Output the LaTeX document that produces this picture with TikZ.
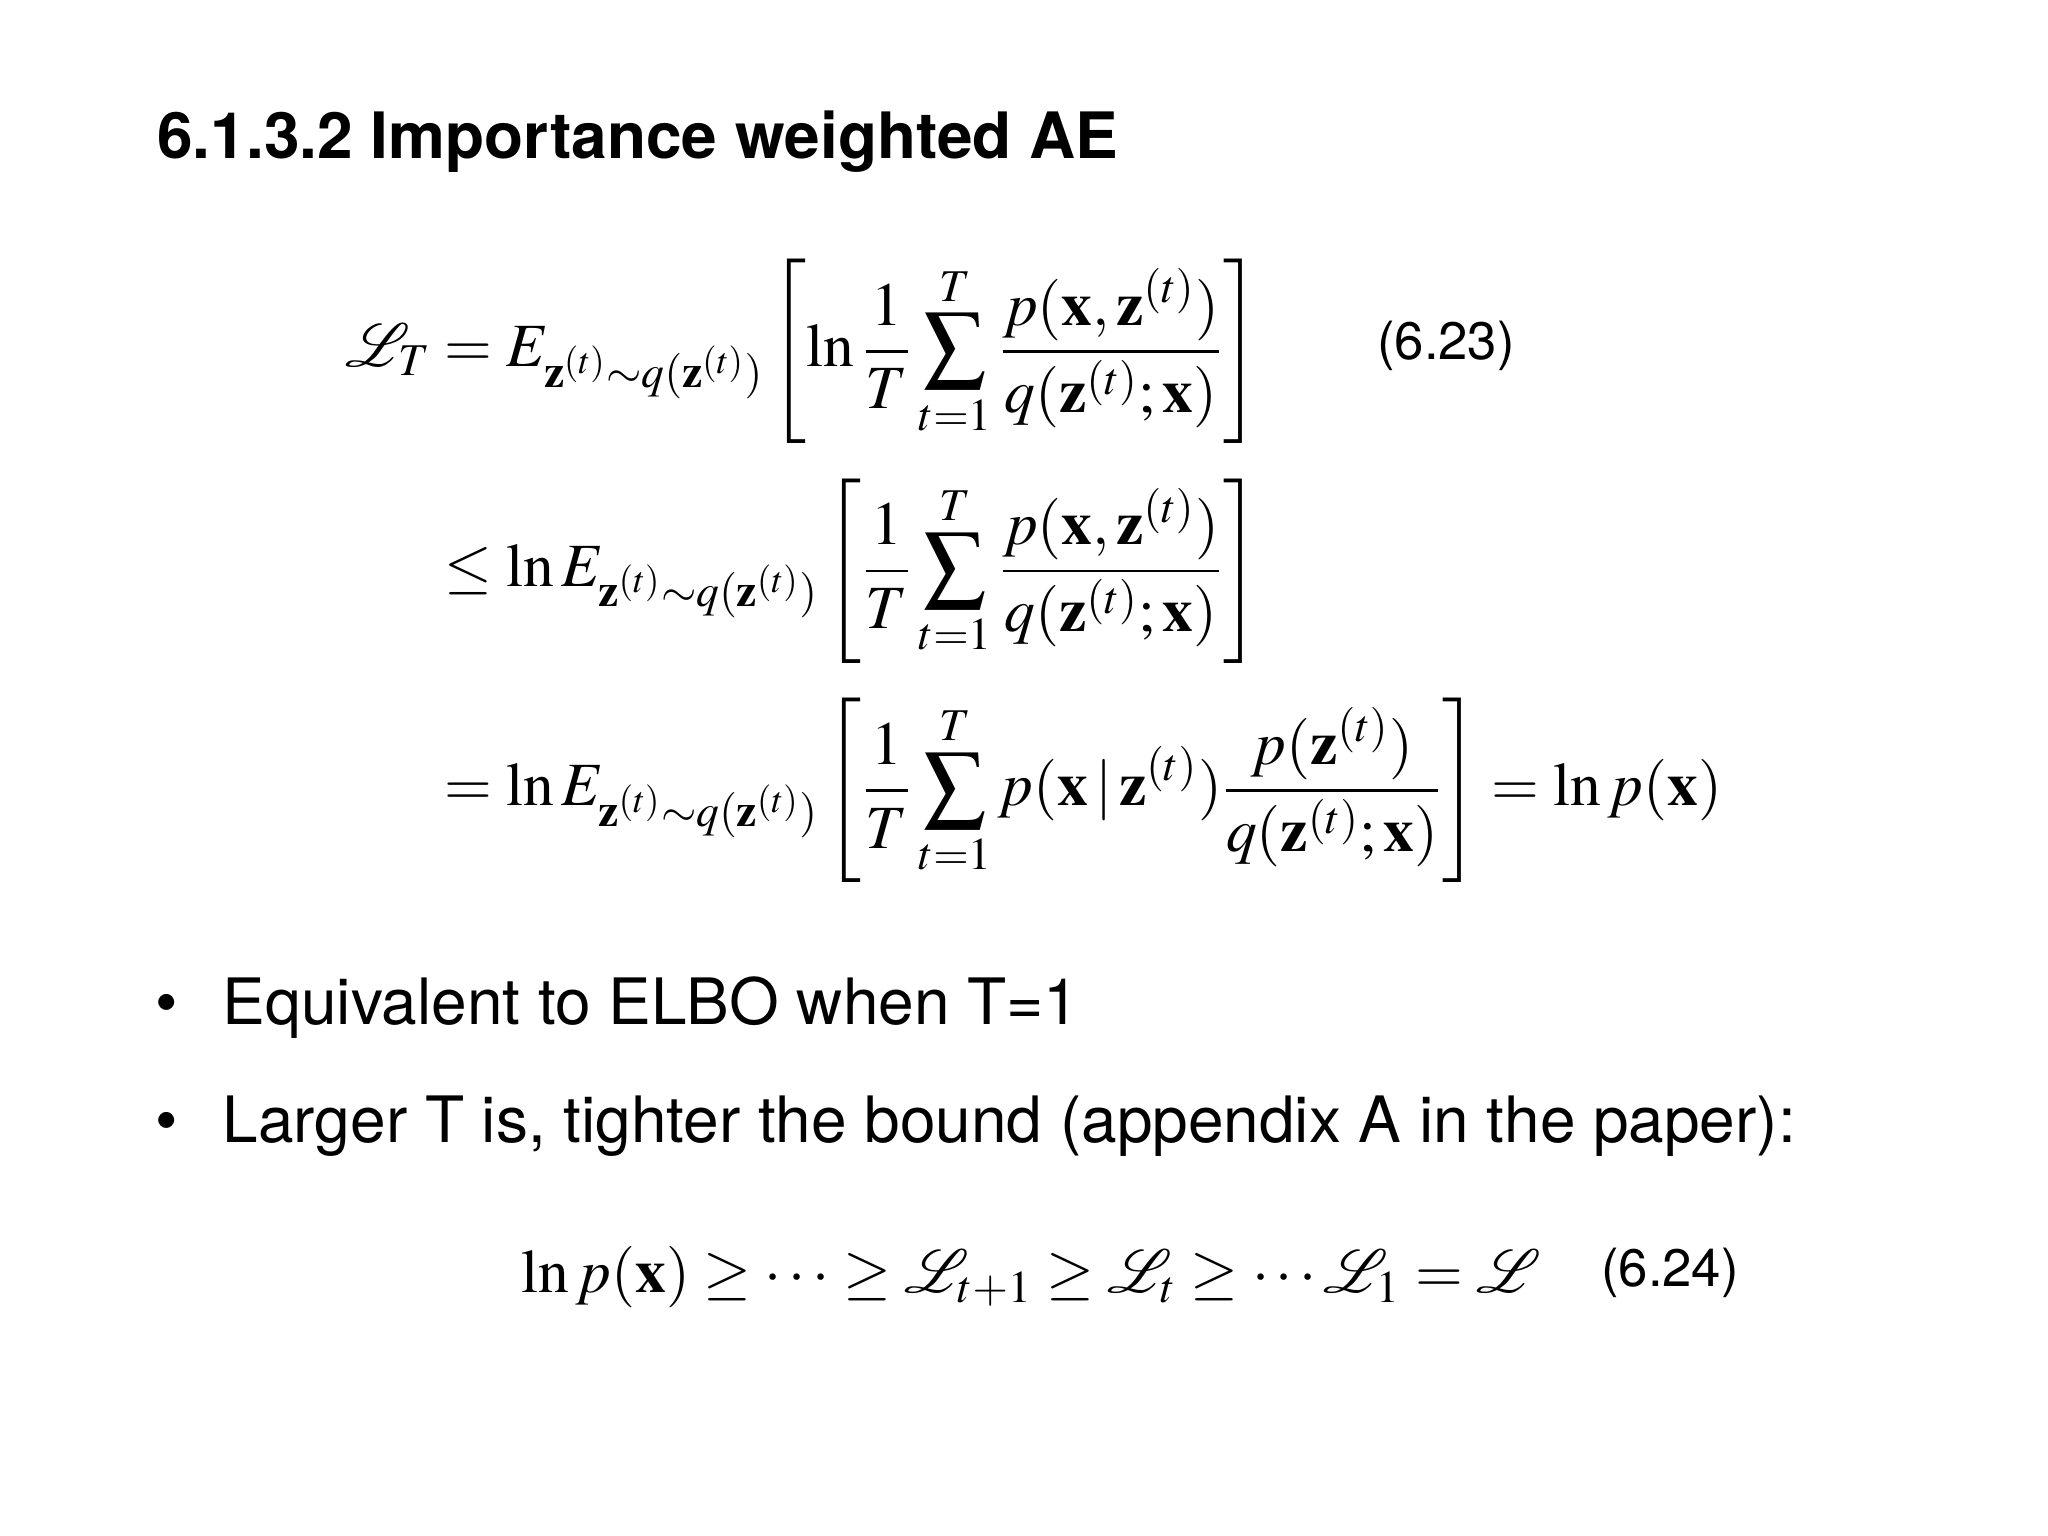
\documentclass[tikz,border=0pt]{standalone}
\usepackage{amsmath,amssymb}
\usepackage{mathptmx}
\usepackage{mathrsfs}
\usepackage{fontspec}
\setmainfont{TeX Gyre Heros}
\usepackage{tikz}

\begin{document}
\begin{tikzpicture}[
  slidetext/.style={anchor=base west, font=\fontsize{18.2}{22}\selectfont},
  tagtext/.style={font=\fontsize{15}{18}\selectfont},
  mathblock/.style={anchor=west, font=\fontsize{17.5}{21}\selectfont}
]
\useasboundingbox (0,0) rectangle (20.48,15.36);

% Title
\node[slidetext, font=\fontsize{18.2}{22}\selectfont\bfseries] (title) at (1.45,13.77) {6.1.3.2 Importance weighted AE};

% Bound (6.23)
\node[mathblock] (bound) at (3.33,9.65) {$\displaystyle
\begin{aligned}
\mathscr{L}_T &= E_{\mathbf{z}^{(t)}\sim q(\mathbf{z}^{(t)})}
 \left[\ln\frac{1}{T}\sum_{t=1}^{T}\frac{p(\mathbf{x},\mathbf{z}^{(t)})}{q(\mathbf{z}^{(t)};\mathbf{x})}\right]\\[6pt]
&\le \ln E_{\mathbf{z}^{(t)}\sim q(\mathbf{z}^{(t)})}
 \left[\frac{1}{T}\sum_{t=1}^{T}\frac{p(\mathbf{x},\mathbf{z}^{(t)})}{q(\mathbf{z}^{(t)};\mathbf{x})}\right]\\[6pt]
&= \ln E_{\mathbf{z}^{(t)}\sim q(\mathbf{z}^{(t)})}
 \left[\frac{1}{T}\sum_{t=1}^{T}p(\mathbf{x}\,|\,\mathbf{z}^{(t)})\frac{p(\mathbf{z}^{(t)})}{q(\mathbf{z}^{(t)};\mathbf{x})}\right]
 = \ln p(\mathbf{x})
\end{aligned}$};
\node[tagtext] (tagA) at (14.46,11.90) {(6.23)};

% Bullets
\node[slidetext] (itemA) at (1.43,5.11) {\textbullet\hspace{0.45cm}Equivalent to ELBO when T=1};
\node[slidetext] (itemB) at (1.43,3.93) {\textbullet\hspace{0.45cm}Larger T is, tighter the bound (appendix A in the paper):};

% Chain (6.24)
\node[slidetext, font=\fontsize{17.5}{21}\selectfont] (chain) at (5.09,2.43) {$\ln p(\mathbf{x})\ge\cdots\ge\mathscr{L}_{t+1}\ge\mathscr{L}_t\ge\cdots\mathscr{L}_1=\mathscr{L}$};
\node[tagtext] (tagB) at (16.70,2.63) {(6.24)};
\end{tikzpicture}
\end{document}
